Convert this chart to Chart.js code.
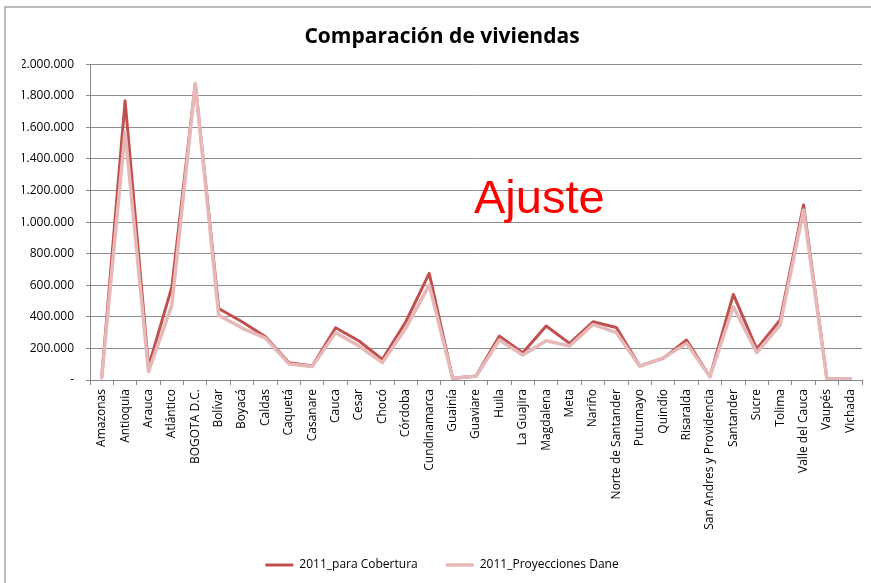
<!DOCTYPE html>
<html>
<head>
<meta charset="utf-8">
<script src="https://cdn.jsdelivr.net/npm/chart.js@4.4.0/dist/chart.umd.min.js"></script>
<style>
  html, body { margin: 0; padding: 0; background: #fff; }
  #wrap { width: 871px; height: 583px; position: relative; }
</style>
</head>
<body>
<div id="wrap"><canvas id="c" width="871" height="583"></canvas></div>
<script>
const categories = ["Amazonas", "Antioquia", "Arauca", "Atlántico", "BOGOTA D.C.", "Bolívar", "Boyacá", "Caldas", "Caquetá", "Casanare", "Cauca", "Cesar", "Chocó", "Córdoba", "Cundinamarca", "Guainía", "Guaviare", "Huila", "La Guajira", "Magdalena", "Meta", "Nariño", "Norte de Santander", "Putumayo", "Quindío", "Risaralda", "San Andres y Providencia", "Santander", "Sucre", "Tolima", "Valle del Cauca", "Vaupés", "Vichada"];

const cobertura2011 = [15000, 1768000, 84000, 590000, 1875000, 453000, 369000, 274000, 110000, 89000, 331000, 247000, 131000, 369000, 675000, 11000, 25000, 278000, 173000, 342000, 232000, 369000, 333000, 89000, 137000, 253000, 21000, 542000, 196000, 380000, 1108000, 7000, 8000];

const proyeccionesDane2011 = [15000, 1571000, 53000, 475000, 1878000, 411000, 329000, 265000, 102000, 85000, 300000, 215000, 110000, 329000, 601000, 11000, 23000, 253000, 158000, 249000, 215000, 352000, 300000, 87000, 140000, 232000, 21000, 464000, 173000, 348000, 1076000, 7000, 8000];

const seriesNames = ["2011_para Cobertura", "2011_Proyecciones Dane"];
const titleText = "Comparación de viviendas";
const annotationText = "Ajuste";
const yMin = 0, yMax = 2000000, yStep = 200000;

function fmt(v) {
  if (v === 0) return "-";
  return String(Math.round(v)).replace(/\B(?=(\d{3})+(?!\d))/g, ".");
}

const frame = {
  id: 'frame',
  beforeDraw(chart) {
    const ctx = chart.ctx;
    ctx.save();
    ctx.fillStyle = '#fff';
    ctx.fillRect(0, 0, chart.width, chart.height);
    ctx.strokeStyle = '#a6a6a6';
    ctx.lineWidth = 1.5;
    ctx.beginPath();
    ctx.moveTo(5, chart.height);
    ctx.lineTo(5, 7);
    ctx.lineTo(chart.width, 7);
    ctx.stroke();
    ctx.restore();
  },
  afterDraw(chart) {
    const ctx = chart.ctx;
    ctx.save();
    ctx.fillStyle = '#ff0000';
    ctx.font = '47px "Liberation Sans", Arial, sans-serif';
    ctx.textBaseline = 'alphabetic';
    ctx.textAlign = 'left';
    ctx.fillText(annotationText, 474, 213);
    ctx.restore();
  }
};

Chart.defaults.font.family = '"Open Sans", sans-serif';
Chart.defaults.color = '#000';

new Chart(document.getElementById('c'), {
  type: 'line',
  data: {
    labels: categories,
    datasets: [
      {
        label: seriesNames[0],
        data: cobertura2011,
        borderColor: '#c0504d',
        backgroundColor: '#c0504d',
        borderWidth: 3,
        borderJoinStyle: 'round',
        borderCapStyle: 'round',
        pointRadius: 0,
        tension: 0,
        order: 1
      },
      {
        label: seriesNames[1],
        data: proyeccionesDane2011,
        borderColor: '#e6b9b8',
        backgroundColor: '#e6b9b8',
        borderWidth: 3.5,
        borderJoinStyle: 'round',
        borderCapStyle: 'round',
        pointRadius: 0,
        tension: 0,
        order: 0
      }
    ]
  },
  options: {
    responsive: false,
    animation: false,
    devicePixelRatio: 1,
    layout: { padding: { left: 22, right: 9, top: 8, bottom: 2 } },
    plugins: {
      title: {
        display: true,
        text: titleText,
        color: '#000',
        font: { size: 21, weight: 'bold', family: '"Open Sans", sans-serif' },
        padding: { top: 16, bottom: 15 }
      },
      legend: {
        position: 'bottom',
        labels: {
          usePointStyle: true,
          pointStyle: 'line',
          pointStyleWidth: 28,
          boxWidth: 28,
          padding: 28,
          font: { size: 12 },
          color: '#000',
          sort: (a, b) => a.datasetIndex - b.datasetIndex
        }
      },
      tooltip: { enabled: false }
    },
    scales: {
      x: {
        offset: true,
        grid: { display: true, drawOnChartArea: false, drawTicks: true, tickLength: 5, offset: true, color: '#868686' },
        border: { display: true, color: '#868686', width: 1 },
        ticks: {
          autoSkip: false,
          maxRotation: 90,
          minRotation: 90,
          padding: 4,
          font: { size: 12 },
          color: '#000'
        },
        afterFit(scale) { scale.height = 151; }
      },
      y: {
        min: yMin,
        max: yMax,
        ticks: {
          stepSize: yStep,
          padding: 12,
          font: { size: 12 },
          color: '#000',
          callback: (v) => fmt(v)
        },
        grid: { color: '#8c8c8c', lineWidth: 1, drawTicks: true, tickLength: 4 },
        border: { display: true, color: '#868686', width: 1 },
        afterFit(scale) { scale.width = 68; }
      }
    }
  },
  plugins: [frame]
});
</script>
</body>
</html>
